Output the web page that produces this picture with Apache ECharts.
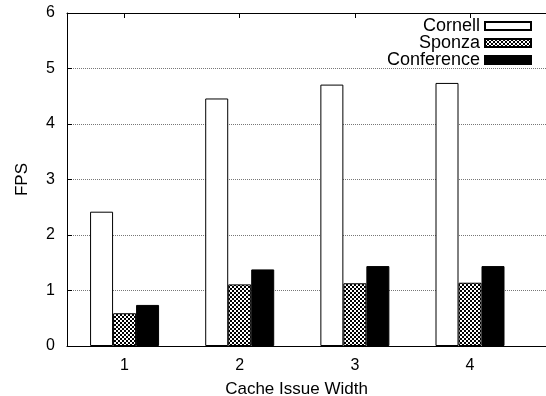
<!DOCTYPE html>
<html>
<head>
<meta charset="utf-8">
<script src="https://cdn.jsdelivr.net/npm/echarts@6/dist/echarts.min.js"></script>
<style>html,body{margin:0;padding:0;background:#fff}#c{width:546px;height:396px}</style>
</head>
<body>
<div id="c"></div>
<script>
var categories = [1, 2, 3, 4];
var cornell = [2.42, 4.46, 4.71, 4.74];
var sponza = [0.59, 1.11, 1.13, 1.14];
var conference = [0.74, 1.38, 1.44, 1.44];
var yTicks = [0, 1, 2, 3, 4, 5, 6];

function pair(vals) { return categories.map(function (c, i) { return [c, vals[i]]; }); }

var pc = document.createElement('canvas');
pc.width = 4; pc.height = 4;
var g = pc.getContext('2d');
g.fillStyle = '#000'; g.fillRect(0, 0, 4, 4);
g.fillStyle = '#fff'; g.fillRect(0, 0, 2, 2); g.fillRect(2, 2, 2, 2);
var checker = { image: pc, repeat: 'repeat' };

var font = 'Liberation Sans, Arial, Helvetica, sans-serif';
var chart = echarts.init(document.getElementById('c'));
var baseStyle = { borderColor: '#000', borderWidth: 1 };
chart.setOption({
  animation: false,
  grid: { left: 67, right: 0, top: 13, bottom: 50, containLabel: false, outerBoundsMode: 'none' },
  legend: {
    orient: 'vertical', align: 'right', right: 14, top: 17, padding: 0,
    icon: 'rect',
    itemWidth: 46, itemHeight: 8, itemGap: -1, itemTextGap: 8,
    textStyle: { fontFamily: font, fontSize: 18, color: '#000', lineHeight: 17 },
    data: ['Cornell', 'Sponza', 'Conference']
  },
  xAxis: [{
    type: 'value', min: 0.5, max: 4.66, position: 'bottom',
    name: 'Cache Issue Width', nameLocation: 'middle', nameGap: 35,
    nameTextStyle: { fontFamily: font, fontSize: 17, color: '#000', padding: [0, 20, 0, 0] },
    axisLine: { show: true, onZero: false, lineStyle: { color: '#000', width: 1 } },
    axisTick: { show: true, inside: true, length: 5, customValues: categories, lineStyle: { color: '#000' } },
    axisLabel: { customValues: categories, margin: 12, fontFamily: font, fontSize: 16, color: '#000' },
    splitLine: { show: false }
  }, {
    type: 'value', min: 0.5, max: 4.66, position: 'top',
    axisLine: { show: true, onZero: false, lineStyle: { color: '#000', width: 1 } },
    axisTick: { show: true, inside: true, length: 5, customValues: categories, lineStyle: { color: '#000' } },
    axisLabel: { show: false },
    splitLine: { show: false }
  }],
  yAxis: {
    type: 'value', min: yTicks[0], max: yTicks[yTicks.length - 1], interval: 1,
    name: 'FPS', nameLocation: 'middle', nameGap: 36,
    nameTextStyle: { fontFamily: font, fontSize: 17, color: '#000' },
    axisLine: { show: true, lineStyle: { color: '#000', width: 1 } },
    axisTick: { show: true, inside: true, length: 5, lineStyle: { color: '#000' } },
    axisLabel: { margin: 12, fontFamily: font, fontSize: 16, color: '#000' },
    splitLine: { show: true, lineStyle: { color: '#777', type: 'dotted', width: 1 } }
  },
  series: [
    { name: 'Cornell', type: 'bar', barWidth: 23, barGap: '0%', data: pair(cornell),
      itemStyle: Object.assign({ color: '#fff' }, baseStyle) },
    { name: 'Sponza', type: 'bar', barWidth: 23, barGap: '0%', data: pair(sponza),
      itemStyle: Object.assign({ color: checker }, baseStyle) },
    { name: 'Conference', type: 'bar', barWidth: 23, barGap: '0%', data: pair(conference),
      itemStyle: Object.assign({ color: '#000' }, baseStyle) }
  ]
});
</script>
</body>
</html>
